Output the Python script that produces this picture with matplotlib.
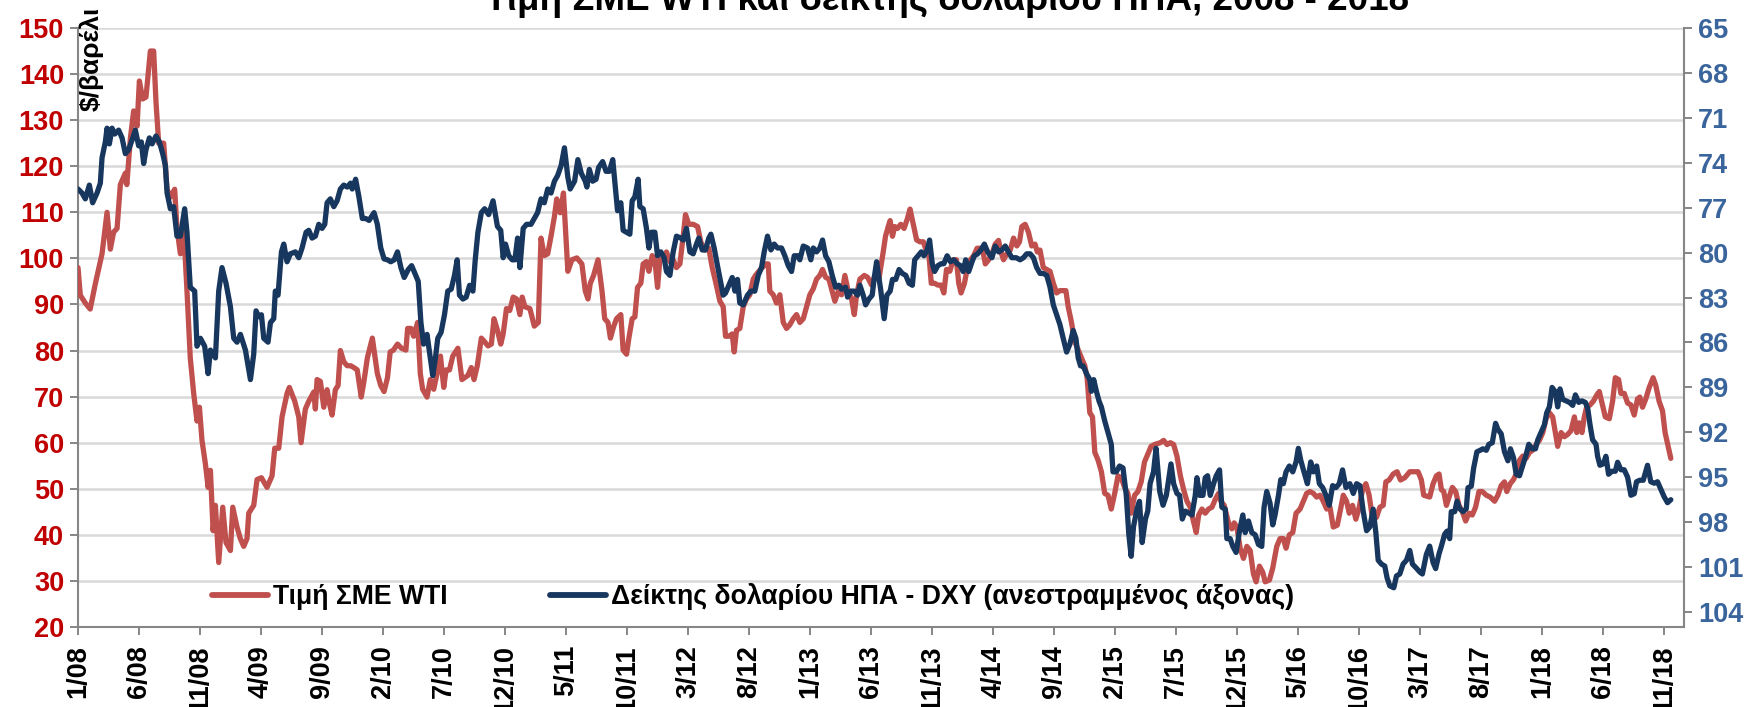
import matplotlib
matplotlib.use('Agg')
import matplotlib.pyplot as plt
from matplotlib.lines import Line2D

plt.rcParams['font.family'] = ['Liberation Sans', 'DejaVu Sans']
plt.rcParams['font.weight'] = 'bold'

title = 'Τιμή ΣΜΕ WTI και δείκτης δολαρίου ΗΠΑ, 2008 - 2018'
ylabel_left = '$/βαρέλι'
label_wti = 'Τιμή ΣΜΕ WTI'
label_dxy = 'Δείκτης δολαρίου ΗΠΑ - DXY (ανεστραμμένος άξονας)'

# x tick labels (every 5 months from 1/08 to 11/18), positions in months since Jan 2008
tick_months = list(range(0, 131, 5))
tick_labels = ['1/08', '6/08', '11/08', '4/09', '9/09', '2/10', '7/10', '12/10', '5/11',
               '10/11', '3/12', '8/12', '1/13', '6/13', '11/13', '4/14', '9/14', '2/15',
               '7/15', '12/15', '5/16', '10/16', '3/17', '8/17', '1/18', '6/18', '11/18']

# WTI price ($/barrel): time in months since Jan 2008, value
wti_t = [0, 0.19, 0.6, 1.0, 1.42, 1.97, 2.38, 2.65, 2.92, 3.2, 3.47, 3.88, 4.0, 4.29, 4.56, 4.84,
         5.03, 5.3, 5.57, 5.93, 6.2, 6.39, 6.61, 7.02, 7.3, 7.57, 7.92, 8.11, 8.39, 8.66, 8.93,
         9.2, 9.48, 9.75, 9.95, 10.16, 10.44, 10.66, 10.85, 11.07, 11.26, 11.53, 11.86, 12.13,
         12.49, 12.68, 13.03, 13.3, 13.58, 13.85, 13.99, 14.4, 14.67, 15.03, 15.49, 15.9, 16.12,
         16.45, 16.72, 17.13, 17.32, 17.76, 18.09, 18.28, 18.63, 18.91, 19.32, 19.45, 19.59,
         19.86, 20.14, 20.41, 20.6, 20.82, 21.09, 21.31, 21.5,
         21.79, 22.06, 22.34, 22.61, 22.88, 23.21, 23.43, 23.71, 24.12, 24.53, 24.81, 25.08,
         25.36, 25.58, 25.85, 26.18, 26.51, 26.87, 27.01, 27.28, 27.5, 27.83, 28.05, 28.24,
         28.6, 28.87, 29.15, 29.48, 29.7, 29.97, 30.16, 30.44, 30.71, 31.13, 31.46, 31.68,
         31.95, 32.23, 32.45, 32.72, 33.05, 33.32, 33.6, 33.87, 34.09, 34.37, 34.64, 34.84,
         35.11, 35.38, 35.66, 35.93, 36.21, 36.4, 36.62, 37.03, 37.39, 37.72, 37.94, 38.21,
         38.49, 38.76, 39.04, 39.23, 39.51, 39.78, 40.14, 40.47, 40.88, 41.29, 41.57, 41.79,
         41.98, 42.25, 42.61, 42.94, 43.16, 43.43, 43.63, 43.9,
         44.13, 44.48, 44.67, 44.95, 45.14, 45.41, 45.63, 45.85, 46.12, 46.31, 46.58, 46.78,
         47.05, 47.27, 47.49, 47.68, 47.95, 48.22, 48.5, 48.77, 49.04, 49.32, 49.59, 49.78,
         50.05, 50.41, 50.77, 51.04, 51.37, 51.69, 51.97, 52.24, 52.6, 52.87, 53.06, 53.33,
         53.61, 53.77, 53.96, 54.23, 54.51, 54.78, 55.05, 55.33, 55.52, 55.79, 56.07, 56.34,
         56.56, 56.69, 56.97, 57.24, 57.51, 57.79, 58.06, 58.33, 58.61, 58.88, 59.15, 59.43,
         59.7, 59.97, 60.25, 60.52, 60.79, 61.01, 61.26, 61.53, 61.8, 62.02, 62.3, 62.57,
         62.84, 63.11, 63.39, 63.61, 63.8, 64.07, 64.43, 64.7, 65.03, 65.3, 65.63, 65.98,
         66.17, 66.39,
         66.55, 66.74, 66.93, 67.15, 67.42, 67.69, 67.96, 68.18, 68.45, 68.72, 68.99, 69.27,
         69.54, 69.73, 69.92, 70.19, 70.46, 70.73, 70.95, 71.17, 71.44, 71.71, 71.98, 72.17,
         72.36, 72.64, 72.85, 73.13, 73.4, 73.67, 73.94, 74.16, 74.35, 74.62, 74.89, 75.16,
         75.43, 75.63, 75.84, 76.11, 76.39, 76.66, 76.93, 77.15, 77.34, 77.61, 77.88, 78.15,
         78.42, 78.61, 78.83, 79.1, 79.38, 79.65, 79.92, 80.19, 80.46, 80.73, 80.95, 81.14,
         81.41, 81.68, 81.96, 82.23, 82.5, 82.69, 82.91, 83.13, 83.32, 83.59, 83.86, 84.13,
         84.4, 84.67, 84.95, 85.22, 85.49, 85.76, 86.03, 86.3, 86.58, 86.85, 87.12, 87.39,
         87.66, 87.93, 88.21,
         88.69, 88.96, 89.24, 89.51, 89.78, 90.05, 90.33, 90.6, 90.87, 91.14, 91.36, 91.63,
         91.83, 92.1, 92.37, 92.64, 92.92, 93.19, 93.46, 93.65, 93.92, 94.28, 94.55, 94.74,
         94.96, 95.23, 95.5, 95.78, 96.05, 96.32, 96.54, 96.81, 97.08, 97.28, 97.63, 97.9,
         98.23, 98.5, 98.77, 98.99, 99.26, 99.54, 99.81, 100.14, 100.41, 100.68, 100.95,
         101.23, 101.5, 101.77, 102.04, 102.32, 102.59, 102.86, 103.19, 103.46, 103.68,
         103.95, 104.17, 104.44, 104.71, 104.99, 105.26, 105.53, 105.8, 106.08, 106.4, 106.68,
         106.95, 107.17, 107.44, 107.77, 108.09, 108.37, 108.72, 109.13, 109.46, 109.81,
         110.08, 110.27,
         110.76, 111.04, 111.31, 111.53, 111.72, 111.91, 112.13, 112.4, 112.62, 112.89,
         113.16, 113.43, 113.71, 113.98, 114.25, 114.52, 114.8, 115.07, 115.4, 115.72,
         116.08, 116.35, 116.62, 116.89, 117.08, 117.36, 117.63, 117.85, 118.12, 118.39,
         118.66, 118.94, 119.21, 119.48, 119.75, 120.03, 120.3, 120.57, 120.84, 121.06,
         121.25, 121.53, 121.8, 122.07, 122.34, 122.62, 122.81, 123.02, 123.24, 123.43,
         123.62, 123.9, 124.17, 124.44, 124.66, 124.88, 125.15, 125.48, 125.75, 125.97,
         126.24, 126.43, 126.7, 126.98, 127.25, 127.52, 127.79, 127.98, 128.2, 128.47,
         128.75, 129.07, 129.29, 129.56, 129.84, 130.05, 130.33, 130.52]
wti_v = [98, 92, 90.3, 89, 94.5, 101, 110, 102, 105.7, 106.5, 116, 118.5, 116, 126, 132, 128.7,
         138.5, 134.6, 135, 145, 145, 134, 125, 125, 115, 113.3, 115, 106.5, 101, 106.5, 93,
         78.4, 70.7, 64.7, 67.7, 60.5, 55.4, 50.3, 54, 40.9, 46.4, 34, 46, 38.3,
         36.6, 46, 41.7, 39.2, 37.5, 39.2, 44.7, 46.4, 52, 52.4, 50.3, 52.8, 58.8,
         58.8, 65.6, 70.7, 72, 69, 65.6, 60, 67.3, 69, 71, 67.3, 73.7,
         73.3, 67.7, 71.5, 68.6, 66, 71.5, 72.4, 80,
         77.5, 76.7, 76.7, 76.3, 75.8, 69.9, 73.3, 78.4, 82.7, 75, 72.4, 71.1,
         74.1, 79.7, 80.1, 81.4, 80.5, 80.1, 84.8, 84.8, 83.1, 86.1, 75, 71.6,
         69.9, 73.7, 71.6, 75.8, 78.8, 72, 75.8, 75.8, 78.8, 80.5, 73.7, 74.1,
         74.6, 76.3, 73.7, 76.7, 82.7, 81.9, 81, 81.4, 86.9, 84.4, 81.4, 83.6,
         89.1, 88.7, 91.6, 91.2, 87.8, 91.6, 89.5, 89.1, 85.3, 86.1, 104.4, 100.6,
         101, 104.8, 109.1, 112.9, 109.9, 114.2, 97.2, 99.7, 100.1, 98.8, 92.9, 91.2,
         94.6, 96.3, 99.7, 92.9, 86.9, 86.1, 82.7, 85.3,
         86.9, 87.8, 80.1, 79.2, 82.7, 86.9, 87.3, 93.7, 94.6, 98.8, 99.3, 97.2,
         100.6, 99.7, 93.7, 99.7, 99.7, 101.4, 99.3, 99.7, 98, 98.8, 104.8, 109.5,
         107.4, 107.4, 106.9, 103.5, 101.8, 102.2, 98, 95, 90.7, 89.5, 83.1, 83.1,
         83.6, 79.7, 84.4, 84.8, 89.5, 91.2, 92.1, 95.5, 96.3, 97.2, 98, 98.8,
         98.8, 92.9, 92.1, 90.3, 92.1, 86.1, 84.8, 85.6, 86.9, 87.8, 86.1, 86.9,
         89.5, 92.1, 93.4, 95.5, 96.3, 97.6, 95.9, 95.5, 92.9, 90.7, 92.9, 92.1,
         96.3, 92.9, 91.2, 87.8, 92.1, 95.5, 96.3, 95.9, 94.2, 96.3, 95.5, 101.4,
         104.8, 106.9,
         108.2, 104.8, 106.9, 106.5, 107.4, 106.5, 108.6, 110.7, 107.4, 104, 103.6, 103.6,
         101.4, 100.6, 94.6, 94.6, 94.2, 94.2, 92.5, 97.6, 97.2, 99.7, 99.7, 94.6,
         92.5, 94.6, 97.6, 99.7, 100.6, 102.2, 102.2, 101.4, 98.8, 99.7, 101, 103.1,
         103.9, 101.4, 99.7, 101, 101.8, 104.4, 102.7, 103.6, 106.9, 107.4, 105.7, 102.7,
         103.1, 101.4, 101.8, 98, 97.6, 97.2, 94.6, 92.5, 93, 93, 93, 89.5,
         86.1, 81.9, 80.1, 78.4, 76.7, 74.1, 66.5, 65.6, 57.9, 56.2, 53.7, 49,
         48.6, 45.6, 49, 52.8, 52.4, 50.3, 49, 44.7, 48.6, 49.4, 51.5, 55.8,
         57.5, 59.2, 59.6,
         60, 60.5, 59.6, 60, 59.6, 57.1, 52.8, 49.8, 47.3, 46, 43.4, 40.5,
         44.3, 45.6, 44.7, 45.6, 46, 47.7, 49, 47.3, 46.4, 42.6, 41.3, 42.6,
         41.7, 37.1, 34.9, 37.5, 36.6, 31.5, 29.8, 33.2, 31.9, 29.8, 30.2, 32.8,
         37.5, 39.2, 39.2, 37.1, 40, 40.5, 44.7, 45.6, 47.3, 49, 49.4,
         49, 48.2, 48.6, 47.3, 45.6, 46, 41.7, 42.1, 45.6, 48.6,
         47.3, 44.7, 46.4, 43.4, 46, 49.8, 51.1, 48.6, 43.4, 43.8, 46,
         46.4, 51.5, 51.9, 53.2, 53.7, 51.9, 52.4, 53.7, 53.7, 53.7,
         51.9, 48.6,
         48.2, 51.1, 52.8, 53.2, 49.8, 49.4, 46.4, 48.6, 50.3, 49.4,
         46.4, 45.1, 43, 44.7, 44.3, 46, 49.4, 49.4, 48.6, 48.2,
         47.3, 48.6, 50.7, 51.5, 49.4, 51.1, 52, 53.2, 56.2, 57.1,
         56.6, 57.9, 58.4, 59.6, 60.5, 62.2, 65.2, 66.5, 65.6, 62.2,
         59.2, 62.2, 61.3, 61.8, 62.6, 65.6, 62.2, 64.3, 62.2, 65.6,
         67.7, 68.2, 69, 70.3, 71.1, 68.6, 65.6, 65.2, 69, 74.1,
         73.7, 70.7, 70.7, 68.6, 68.2, 66, 69.5, 69.9, 67.7, 69.5,
         72, 74.1, 72.4, 69, 66.9, 62.2, 58.8, 56.6]

# US dollar index DXY: time in months since Jan 2008, value (plotted on inverted axis)
dxy_t = [0, 0.33, 0.6, 0.93, 1.2, 1.56, 1.83, 1.97, 2.24, 2.38, 2.57, 2.79, 3.01, 3.33, 3.61,
         3.88, 4.15, 4.43, 4.7, 4.97, 5.19, 5.38, 5.57, 5.85, 6.07, 6.39, 6.67, 6.94, 7.16,
         7.3, 7.57, 7.84, 8.11, 8.39, 8.74, 8.93, 9.2, 9.56, 9.75, 10.03, 10.38, 10.66, 10.85,
         11.26, 11.53, 11.8, 12.13, 12.49, 12.76, 13.03, 13.31, 13.72, 14.13, 14.4, 14.59,
         14.81, 15.03, 15.22, 15.57, 15.77, 16.04, 16.17, 16.39, 16.67, 16.86, 17.13, 17.4,
         17.81, 18.09, 18.36, 18.69, 18.91, 19.18, 19.45, 19.73, 20, 20.22, 20.41, 20.68,
         20.96, 21.23, 21.5, 21.78,
         22.06, 22.34, 22.47, 22.75, 23.02, 23.3, 23.57, 23.85, 24.26, 24.53, 24.81, 25.08,
         25.36, 25.63, 25.91, 26.18, 26.46, 26.73, 27.06, 27.34, 27.61, 27.88, 28.1, 28.32,
         28.6, 28.87, 29.07, 29.29, 29.48, 29.75, 30.03, 30.3, 30.58, 30.85, 31.07, 31.26,
         31.54, 31.81, 32.09, 32.36, 32.55, 32.77, 33.05, 33.32, 33.65, 34.01, 34.37, 34.64,
         34.84, 35.03, 35.3, 35.58, 35.8, 36.02, 36.21, 36.48, 36.76, 37.12, 37.39, 37.66,
         37.94, 38.21, 38.49, 38.76, 39.04, 39.31, 39.59, 39.86, 40.14, 40.33, 40.69, 40.96,
         41.24, 41.57, 41.7, 41.9, 42.17, 42.45, 42.66, 42.99, 43.27, 43.54, 43.82,
         44.21, 44.48, 44.67, 44.95, 45.22, 45.41, 45.63, 45.9, 46.04, 46.31, 46.58, 46.78,
         46.99, 47.27, 47.49, 47.76, 48.03, 48.22, 48.5, 48.77, 49.04, 49.4, 49.59, 49.86,
         50.14, 50.41, 50.68, 50.87, 51.15, 51.42, 51.69, 51.86, 52.13, 52.4, 52.68, 52.87,
         53.06, 53.33, 53.61, 53.83, 54.04, 54.23, 54.51, 54.86, 55.14, 55.46, 55.74, 56.01,
         56.23, 56.5, 56.78, 57.05, 57.32, 57.65, 57.92, 58.2, 58.47, 58.69, 58.96, 59.15,
         59.43, 59.78, 60.05, 60.25, 60.52, 60.79, 61.01, 61.26, 61.53, 61.8, 62.08, 62.35,
         62.57, 62.9, 63.06, 63.33, 63.61, 63.88, 64.07, 64.34, 64.54, 64.81, 65.08, 65.25,
         65.44,
         65.79, 66.06, 66.28, 66.55, 66.74, 67.01, 67.28, 67.55, 67.83, 68.1, 68.37, 68.56,
         68.83, 69.1, 69.32, 69.59, 69.78, 70, 70.19, 70.46, 70.73, 70.95, 71.22, 71.49,
         71.77, 72.04, 72.31, 72.53, 72.74, 72.99, 73.26, 73.45, 73.72, 73.99, 74.27, 74.54,
         74.89, 75.16, 75.43, 75.71, 75.98, 76.25, 76.52, 76.88, 77.2, 77.47, 77.74, 78.02,
         78.29, 78.56, 78.83, 79.1, 79.38, 79.65, 79.92, 80.19, 80.46, 80.73, 81.01, 81.28,
         81.55, 81.77, 81.96, 82.15, 82.36, 82.64, 82.91, 83.04, 83.23, 83.45, 83.67, 83.86,
         84.13, 84.4, 84.67, 84.81, 85.08, 85.35, 85.63, 85.9, 86.11, 86.3, 86.49, 86.77,
         86.98, 87.2, 87.47, 87.66, 87.85, 88.13, 88.34,
         88.64, 88.91, 89.18, 89.37, 89.56, 89.78, 90.05, 90.27, 90.49, 90.74, 91.01, 91.28,
         91.55, 91.69, 91.91, 92.18, 92.37, 92.56, 92.78, 93.05, 93.27, 93.54, 93.73, 94.01,
         94.14, 94.41, 94.63, 94.9, 95.18, 95.45, 95.64, 95.91, 96.19, 96.46, 96.73, 97.0,
         97.19, 97.41, 97.68, 97.9, 98.09, 98.37, 98.56, 98.77, 98.99, 99.26, 99.54, 99.81,
         100, 100.19, 100.46, 100.74, 101.01, 101.23, 101.5, 101.72, 101.99, 102.26, 102.53,
         102.81, 103.08, 103.35, 103.62, 103.9, 104.22, 104.5, 104.77, 105.04, 105.31,
         105.59, 105.86, 106.13, 106.35, 106.54, 106.81, 107.08, 107.27, 107.49, 107.82,
         108.04, 108.31, 108.58, 108.86, 109.13, 109.35, 109.67, 109.95, 110.16, 110.49,
         110.76, 111.04, 111.25, 111.53, 111.72, 111.99, 112.18, 112.4, 112.53, 112.81,
         113.0, 113.22, 113.49, 113.76, 113.9, 114.17, 114.36, 114.63, 114.9, 115.12,
         115.4, 115.61, 115.89, 116.16, 116.35, 116.62, 116.89, 117.17, 117.38, 117.63,
         117.85, 118.12, 118.39, 118.66, 118.88, 119.16, 119.43, 119.62, 119.89, 120.16,
         120.35, 120.57, 120.79, 121.06, 121.25, 121.44, 121.66, 121.93, 122.21, 122.48,
         122.7, 122.97, 123.24, 123.51, 123.71, 123.9, 124.11, 124.39, 124.52, 124.71,
         124.99, 125.2, 125.42, 125.69, 125.97, 126.16, 126.43, 126.7, 126.98, 127.25,
         127.52, 127.71, 127.98, 128.26, 128.61, 128.88, 129.16, 129.43, 129.7, 129.97,
         130.25, 130.52]
dxy_v = [75.75, 76.02, 76.41, 75.49, 76.67, 76.02, 75.36, 73.66, 72.61, 71.69, 72.74, 71.69,
         72.08, 71.82, 72.34, 73.39, 73.13, 72.48, 71.82, 72.87, 72.61, 74.05, 73.13, 72.34,
         72.74, 72.21, 72.61, 73.39, 74.18, 76.02, 77.07, 76.93, 78.9, 78.9, 77.07, 78.64,
         82.31, 82.57, 86.25, 85.72, 86.25, 88.08, 86.51, 87.03, 82.57, 81, 82.05, 83.62,
         85.72, 85.98, 85.46, 86.51, 88.48, 86.77, 83.89, 84.28, 84.15, 85.72, 85.98, 84.67,
         84.41, 82.57, 82.84, 79.95, 79.43, 80.61, 80.08, 79.95, 80.34, 79.69, 78.64, 78.51,
         79.03, 78.9, 78.11, 78.38, 78.11, 76.67, 76.41, 76.93, 76.54, 75.75, 75.49,
         75.62, 75.36, 75.75, 75.1, 76.28, 77.72, 77.72, 77.85, 77.33, 78.11, 79.69, 80.42,
         80.48, 80.61, 80.48, 79.95, 81, 81.66, 81.13, 80.87, 81.39, 81.92, 84.67, 86.11,
         85.46, 87.03, 88.21, 87.03, 85.72, 85.33, 84.15, 82.57, 82.44, 81.52, 80.48, 82.84,
         83.1, 82.97, 82.18, 82.57, 80.48, 78.64, 77.33, 77.07, 77.46, 76.54, 78.25, 78.51,
         80.34, 79.43, 80.21, 80.48, 80.48, 79.03, 81, 78.38, 78.11, 78.11, 77.72, 77.33,
         76.41, 76.67, 75.75, 76.02, 75.23, 74.84, 74.18, 73, 74.97, 75.75, 75.23, 73.79,
         74.7, 75.23, 75.62, 74.44, 75.23, 75.1, 74.31, 73.92, 74.57, 74.57, 73.79,
         77.2, 76.67, 78.51, 78.64, 78.77, 76.54, 76.28, 75.1, 76.93, 77.07, 78.38, 79.69,
         78.64, 78.64, 80.21, 79.95, 80.34, 81.26, 81.52, 79.95, 78.9, 79.03, 79.16, 78.38,
         79.95, 80.08, 79.43, 79.03, 79.82, 79.82, 79.03, 78.77, 79.69, 80.87, 82.05, 82.84,
         82.7, 82.18, 81.66, 82.57, 81.79, 83.36, 83.49, 82.84, 82.57, 82.57, 81.52, 81,
         79.95, 78.9, 79.82, 79.43, 79.69, 79.69, 80.21, 80.87, 81.26, 80.21, 80.21, 80.48,
         79.56, 79.69, 80.48, 79.69, 79.95, 79.69, 79.16, 80.21, 80.61, 81.52, 82.31, 82.18,
         82.44, 82.31, 82.97, 82.57, 82.57, 82.84, 82.18, 82.84, 83.49, 83.1, 82.84, 81.66,
         80.61,
         82.57, 84.41, 82.84, 82.57, 81.79, 81.79, 81.13, 81.39, 81.52, 82.05, 82.18, 80.48,
         80.21, 79.95, 80.21, 79.82, 79.16, 80.74, 81.26, 80.87, 80.74, 80.74, 80.21, 80.61,
         80.48, 80.74, 80.87, 81.26, 80.48, 81.26, 80.61, 80.21, 80.08, 79.82, 79.43, 79.95,
         80.34, 79.56, 79.95, 79.82, 79.56, 79.95, 80.34, 80.34, 80.48, 80.34, 80.08, 80.08,
         80.34, 81, 81.39, 81.39, 81.52, 82.31, 83.49, 84.15, 84.8, 85.72, 86.64, 86.11,
         85.2, 85.72, 87.03, 87.56, 87.56, 88.08, 88.48, 89.26, 88.48, 89.26, 89.92, 90.31,
         91.23, 92.02, 92.8, 94.64, 94.64, 94.25, 94.38, 96.21, 98.84, 100.28, 98.31, 97.13,
         96.61, 99.36, 97.79, 97.26, 95.43, 94.64, 93.07,
         95.95, 96.87, 96.21, 95.16, 94.11, 95.43, 96.08, 96.21, 97.79, 97.26, 97.39, 97.52,
         96.21, 95.03, 96.21, 96.21, 95.03, 94.9, 96.21, 95.43, 94.9, 94.51, 97, 97.13,
         99.1, 99.1, 99.62, 100.02, 98.57, 97.52, 98.7, 97.92, 98.7, 98.84, 99.49, 99.62,
         97, 95.95, 96.74, 98.18, 97.52, 96.21, 95.16, 95.43, 94.64, 94.25, 94.64, 93.98,
         93.07, 93.85, 94.64, 95.43, 93.98, 94.64, 94.25, 95.43, 95.69, 96.21, 96.87,
         95.56, 95.69, 95.43, 94.51, 95.69, 95.43, 96.08, 95.43, 95.56, 97.26,
         98.57, 98.31, 97.13, 98.7, 100.54, 100.8, 100.93, 101.72, 102.25, 102.38,
         101.59, 101.46, 100.8, 100.54, 99.89, 100.8, 101.07, 101.33, 101.46, 100.15,
         99.6, 100.7, 101.1, 100.1, 99.6, 98.8, 98.6, 99.1, 97.3, 97.3,
         96.6, 97.1, 97.3, 97.1, 95.7, 95.6, 94.4, 93.3, 93.2, 93.1,
         93.2, 92.8, 92.7, 91.4, 91.8, 92.1, 93.3, 93.9, 93.1, 93.7,
         94.8, 94.9, 94.2, 93.5, 92.8, 93.1, 93.1, 92.5, 92, 91.5,
         90.7, 90.3, 89, 89.3, 90.3, 89.1, 89.8, 89.9, 90, 90.2,
         89.5, 90, 89.9, 90, 90.4, 91.5, 92.5, 92.8, 93.6, 94.2,
         94.1, 93.6, 94.8, 94.6, 94.6, 94, 94.5, 94.5, 95, 96.2,
         96.1, 95.3, 95.2, 95.2, 94.2, 95.3, 95.4, 95.3, 95.8, 96.3,
         96.7, 96.5]

RED = '#c0504d'
BLUE = '#17375e'
AXIS_GRAY = '#868686'
GRID = '#d9d9d9'

W, H = 1758, 707
fig = plt.figure(figsize=(W / 100, H / 100), dpi=100)
L, R, T, B = 78, 1684, 28, 627
ax = fig.add_axes([L / W, 1 - B / H, (R - L) / W, (B - T) / H])

ax.plot(wti_t, wti_v, color=RED, lw=3.8, solid_joinstyle='round', solid_capstyle='round', zorder=3)
ax.set_xlim(0, 131.6)
ax.set_ylim(20, 150)
ax.set_yticks(range(20, 151, 10))
ax.set_xticks(tick_months)
ax.set_xticklabels(tick_labels, rotation=90, fontsize=19.5, fontweight='bold', color='black')
ax.yaxis.grid(True, color=GRID, lw=1.8)
ax.set_axisbelow(True)
ax.tick_params(axis='y', direction='out', length=6, width=1.4, color=AXIS_GRAY, pad=4,
               labelsize=19.5, labelcolor='#c00000')
ax.tick_params(axis='x', direction='out', length=6, width=1.4, color=AXIS_GRAY, pad=7)
for s in ['top', 'right']:
    ax.spines[s].set_visible(False)
for s in ['left', 'bottom']:
    ax.spines[s].set_color(AXIS_GRAY)
    ax.spines[s].set_linewidth(1.5)

ax2 = ax.twinx()
ax2.plot(dxy_t, dxy_v, color=BLUE, lw=3.8, solid_joinstyle='round', solid_capstyle='round')
ax2.set_ylim(105, 65)
ax2.set_yticks(range(65, 105, 3))
ax2.tick_params(axis='y', direction='out', length=6, width=1.4, color=AXIS_GRAY, pad=4,
                labelsize=19.5, labelcolor='#3a659c')
for s in ['top', 'left', 'bottom']:
    ax2.spines[s].set_visible(False)
ax2.spines['right'].set_color(AXIS_GRAY)
ax2.spines['right'].set_linewidth(1.5)
ax2.set_xlim(0, 131.6)

# legend entries
leg_y = 1 - 597 / H
leg1 = fig.legend(handles=[Line2D([], [], color=RED, lw=4.2, solid_capstyle='round')],
                  labels=[label_wti], loc='center left', bbox_to_anchor=(212 / W, leg_y),
                  frameon=False, prop={'size': 19.2, 'weight': 'bold'}, handlelength=2.1,
                  handletextpad=0.2, borderpad=0, borderaxespad=0)
leg2 = fig.legend(handles=[Line2D([], [], color=BLUE, lw=4.2, solid_capstyle='round')],
                  labels=[label_dxy], loc='center left', bbox_to_anchor=(550 / W, leg_y),
                  frameon=False, prop={'size': 19.2, 'weight': 'bold'}, handlelength=2.1,
                  handletextpad=0.2, borderpad=0, borderaxespad=0)

fig.text(947 / W, 1 - 10 / H, title, ha='center', va='baseline', fontsize=26.5,
         fontweight='bold', color='black')
fig.text(91 / W, 1 - 7 / H, ylabel_left, rotation=90, ha='center', va='top', fontsize=19,
         fontweight='bold', color='black')

fig.savefig('out.png', dpi=100)
